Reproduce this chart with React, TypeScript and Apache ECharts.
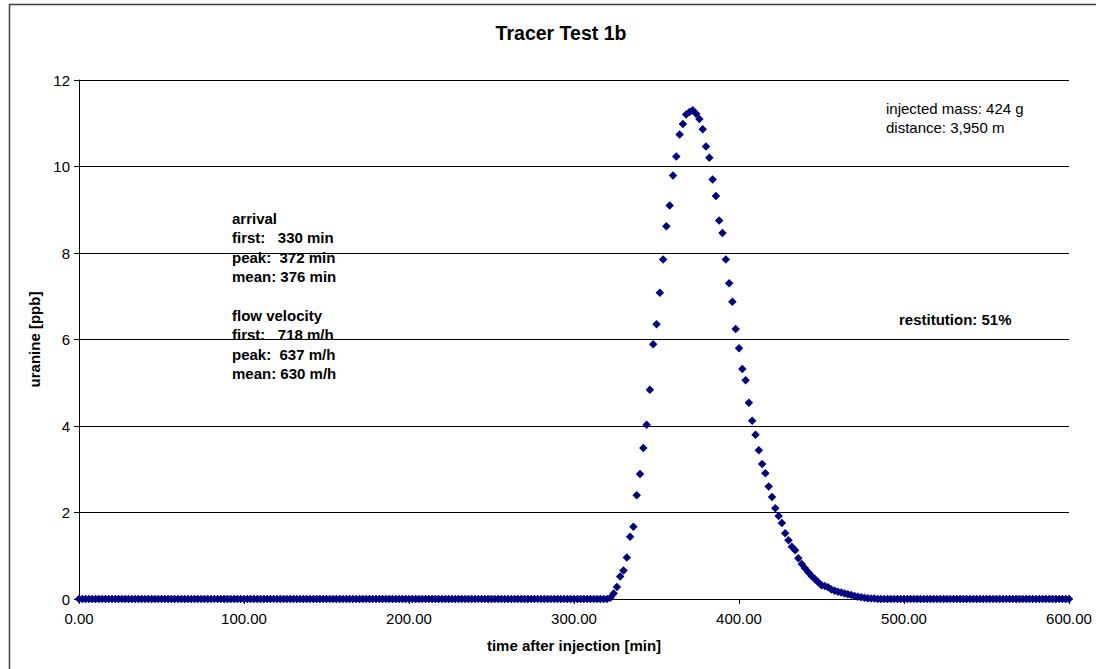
import { useEffect, useRef } from "react";
import * as echarts from "echarts";

const TITLE = "Tracer Test 1b";
const X_NAME = "time after injection [min]";
const Y_NAME = "uranine [ppb]";
const X_MIN = 0;
const X_MAX = 600;
const X_STEP = 100;
const Y_MIN = 0;
const Y_MAX = 12;
const Y_STEP = 2;
const SAMPLE_INTERVAL_MIN = 2;

// uranine concentration [ppb], one sample every 2 min from 0 to 600 min
const URANINE_PPB = [
  // 0 – 38 min
  0, 0, 0, 0, 0, 0, 0, 0, 0, 0, 0, 0, 0, 0, 0, 0, 0, 0, 0, 0,
  // 40 – 78
  0, 0, 0, 0, 0, 0, 0, 0, 0, 0, 0, 0, 0, 0, 0, 0, 0, 0, 0, 0,
  // 80 – 118
  0, 0, 0, 0, 0, 0, 0, 0, 0, 0, 0, 0, 0, 0, 0, 0, 0, 0, 0, 0,
  // 120 – 158
  0, 0, 0, 0, 0, 0, 0, 0, 0, 0, 0, 0, 0, 0, 0, 0, 0, 0, 0, 0,
  // 160 – 198
  0, 0, 0, 0, 0, 0, 0, 0, 0, 0, 0, 0, 0, 0, 0, 0, 0, 0, 0, 0,
  // 200 – 238
  0, 0, 0, 0, 0, 0, 0, 0, 0, 0, 0, 0, 0, 0, 0, 0, 0, 0, 0, 0,
  // 240 – 278
  0, 0, 0, 0, 0, 0, 0, 0, 0, 0, 0, 0, 0, 0, 0, 0, 0, 0, 0, 0,
  // 280 – 318
  0, 0, 0, 0, 0, 0, 0, 0, 0, 0, 0, 0, 0, 0, 0, 0, 0, 0, 0, 0,
  // 320 – 358
  0, 0.03, 0.13, 0.28, 0.52, 0.66, 0.96, 1.44, 1.67, 2.4,
  2.89, 3.49, 4.03, 4.84, 5.89, 6.35, 7.08, 7.85, 8.62, 9.1,
  // 360 – 398
  9.79, 10.23, 10.74, 10.98, 11.2, 11.26, 11.3, 11.22, 11.1, 10.86,
  10.46, 10.2, 9.7, 9.32, 8.75, 8.46, 7.85, 7.3, 6.87, 6.24,
  // 400 – 438
  5.8, 5.32, 5.06, 4.54, 4.12, 3.8, 3.44, 3.12, 2.91, 2.6,
  2.36, 2.1, 1.92, 1.76, 1.52, 1.36, 1.21, 1.13, 0.94, 0.81,
  // 440 – 478
  0.71, 0.62, 0.53, 0.46, 0.39, 0.32, 0.3, 0.27, 0.22, 0.19,
  0.17, 0.15, 0.13, 0.11, 0.09, 0.07, 0.05, 0.04, 0.03, 0.02,
  // 480 – 518
  0.01, 0.01, 0, 0, 0, 0, 0, 0, 0, 0, 0, 0, 0, 0, 0, 0, 0, 0, 0, 0,
  // 520 – 558
  0, 0, 0, 0, 0, 0, 0, 0, 0, 0, 0, 0, 0, 0, 0, 0, 0, 0, 0, 0,
  // 560 – 600
  0, 0, 0, 0, 0, 0, 0, 0, 0, 0, 0, 0, 0, 0, 0, 0, 0, 0, 0, 0, 0,
];

const NB = "\u00a0";
const ARRIVAL_LINES = [
  "arrival",
  `first:${NB}${NB}${NB}330 min`,
  `peak:${NB}${NB}372 min`,
  "mean: 376 min",
];
const VELOCITY_LINES = [
  "flow velocity",
  `first:${NB}${NB}${NB}718 m/h`,
  `peak:${NB}${NB}637 m/h`,
  "mean: 630 m/h",
];
const INFO_LINES = ["injected mass: 424 g", "distance: 3,950 m"];
const RESTITUTION = "restitution: 51%";

const FONT = "'Liberation Sans', Arial, Helvetica, sans-serif";

export default function App() {
  const ref = useRef<HTMLDivElement>(null);

  useEffect(() => {
    if (!ref.current) return;
    const chart = echarts.init(ref.current, null, { renderer: "svg" });

    const data = URANINE_PPB.map((v, i) => [i * SAMPLE_INTERVAL_MIN, v]);

    const lineH = 19.5;
    const textEl = (text: string, x: number, y: number, bold: boolean) => ({
      type: "text",
      x,
      y,
      silent: true,
      style: {
        text,
        fill: "#000",
        font: `${bold ? "bold " : ""}15px ${FONT}`,
        textAlign: "left",
        textVerticalAlign: "middle",
      },
    });

    const graphics: any[] = [
      {
        type: "rect",
        shape: { x: 9.5, y: 4.5, width: 1200, height: 800 },
        style: { fill: "none", stroke: "#404040", lineWidth: 1.5 },
        silent: true,
        z: 100,
      },
      {
        type: "text",
        x: 561,
        y: 33,
        silent: true,
        style: {
          text: TITLE,
          fill: "#000",
          font: `bold 19.5px ${FONT}`,
          textAlign: "center",
          textVerticalAlign: "middle",
        },
      },
    ];
    ARRIVAL_LINES.forEach((t, i) => graphics.push(textEl(t, 232, 218 + i * lineH, true)));
    VELOCITY_LINES.forEach((t, i) => graphics.push(textEl(t, 232, 315 + i * lineH, true)));
    INFO_LINES.forEach((t, i) => graphics.push(textEl(t, 886, 108 + i * lineH, false)));
    graphics.push(textEl(RESTITUTION, 899, 319, true));

    chart.setOption({
      animation: false,
      backgroundColor: "#fff",
      grid: {
        left: 79,
        right: 27,
        top: 80,
        bottom: 70,
        containLabel: false,
        outerBoundsMode: "none",
      },
      xAxis: {
        type: "value",
        min: X_MIN,
        max: X_MAX,
        interval: X_STEP,
        name: X_NAME,
        nameLocation: "middle",
        nameGap: 39,
        nameTextStyle: { fontFamily: FONT, fontSize: 15, fontWeight: "bold", color: "#000" },
        axisLine: { show: true, onZero: false, lineStyle: { color: "#000", width: 1 } },
        axisTick: { show: true, inside: false, length: 5, lineStyle: { color: "#000" } },
        axisLabel: {
          fontFamily: FONT,
          fontSize: 15,
          color: "#000",
          margin: 12,
          formatter: (v: number) => v.toFixed(2),
        },
        splitLine: { show: false },
      },
      yAxis: {
        type: "value",
        min: Y_MIN,
        max: Y_MAX,
        interval: Y_STEP,
        name: Y_NAME,
        nameLocation: "middle",
        nameGap: 35,
        nameRotate: 90,
        nameTextStyle: { fontFamily: FONT, fontSize: 15, fontWeight: "bold", color: "#000" },
        axisLine: { show: true, onZero: false, lineStyle: { color: "#000", width: 1 } },
        axisTick: { show: true, inside: false, length: 5, lineStyle: { color: "#000" } },
        axisLabel: { fontFamily: FONT, fontSize: 15, color: "#000", margin: 9 },
        splitLine: { show: true, lineStyle: { color: "#000", width: 1 } },
      },
      graphic: graphics,
      series: [
        {
          type: "scatter",
          symbol: "diamond",
          symbolSize: 8.5,
          clip: false,
          itemStyle: { color: "#000080", opacity: 1 },
          data,
        },
      ],
    });

    return () => chart.dispose();
  }, []);

  return (
    <div
      ref={ref}
      style={{ position: "fixed", left: 0, top: 0, width: 1096, height: 669, background: "#fff" }}
    />
  );
}
